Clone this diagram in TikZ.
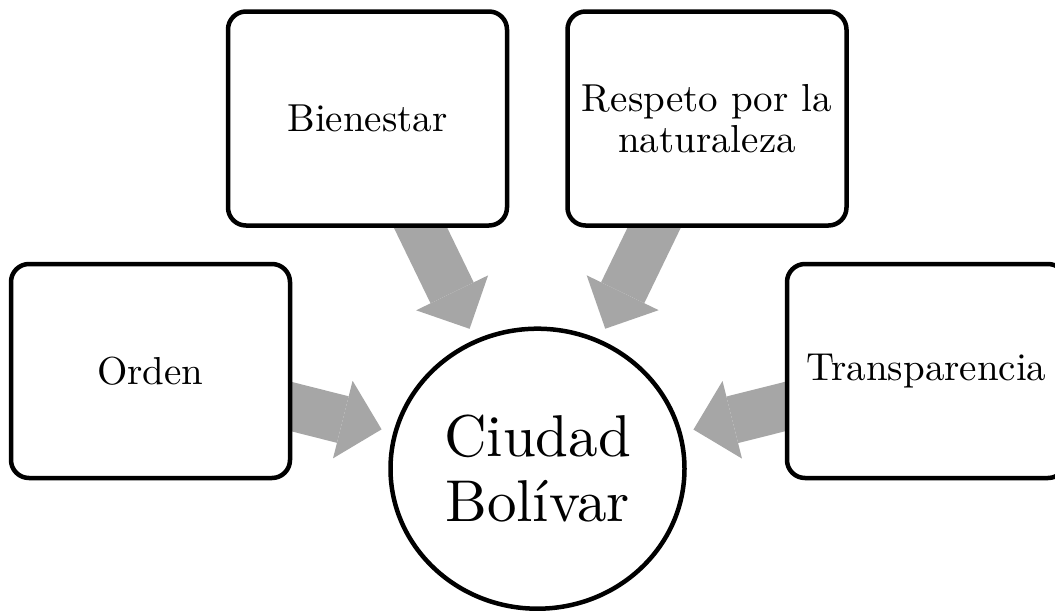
\documentclass[tikz,border=0pt]{standalone}
\usepackage{fontspec}
\setmainfont{lmroman10-regular.otf}
\usetikzlibrary{shapes.geometric,arrows.meta,backgrounds}
\definecolor{arrowgray}{HTML}{A6A6A6}
\tikzset{
  valuebox/.style={draw=black, fill=white, line width=4.5pt, rounded corners=18pt,
    minimum width=279pt, minimum height=214pt, inner sep=0pt, align=center,
    font=\fontsize{39}{41}\selectfont},
  hub/.style={ellipse, draw=black, fill=white, line width=4.5pt,
    minimum width=294pt, minimum height=280pt, inner sep=0pt, align=center,
    font=\fontsize{59}{65}\selectfont},
  bigarrow/.style={draw=arrowgray, line width=48pt, shorten >=12pt,
    -{Triangle[length=40pt,width=80pt,line width=0pt]}}
}
\begin{document}
\begin{tikzpicture}[x=1pt,y=-1pt]
\useasboundingbox (0,0) rectangle (1055,614);
\clip (0,0) rectangle (1055,614);
\node[hub] (cb) at (537.5,468.7) {Ciudad\\Bolívar};
\node[valuebox] (bien) at (367.5,118.5) {Bienestar};
\node[valuebox] (resp) at (707,118.5) {Respeto por la\\naturaleza};
\node[valuebox] (ord) at (150.5,371) {Orden};
\node[valuebox] (trans) at (926.5,371) {Transparencia};
\begin{scope}[on background layer]
  \draw[bigarrow] (bien.center) -- (cb);
  \draw[bigarrow] (resp.center) -- (cb);
  \draw[bigarrow] (ord.center) -- (cb);
  \draw[bigarrow] (trans.center) -- (cb);
\end{scope}
\end{tikzpicture}
\end{document}
